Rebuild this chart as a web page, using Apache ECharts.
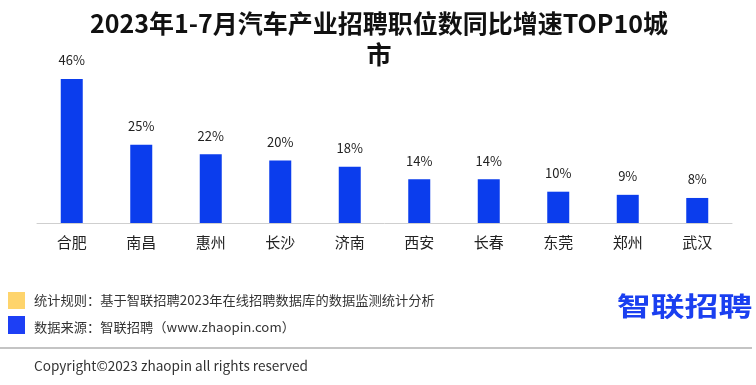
<!DOCTYPE html>
<html><head><meta charset="utf-8">
<script src="https://cdn.jsdelivr.net/npm/echarts@6/dist/echarts.min.js"></script>
<style>html,body{margin:0;padding:0;background:#fff}#c{width:756px;height:385px}</style>
</head><body><div id="c"></div>
<script>
const categories = ['合肥','南昌','惠州','长沙','济南','西安','长春','东莞','郑州','武汉'];
const growthPct = [46, 25, 22, 20, 18, 14, 14, 10, 9, 8];
const titleLine1 = '2023年1-7月汽车产业招聘职位数同比增速TOP10城';
const titleLine2 = '市';
const noteRule = '统计规则：基于智联招聘2023年在线招聘数据库的数据监测统计分析';
const noteSource = '数据来源：智联招聘（www.zhaopin.com）';
const copyright = 'Copyright©2023 zhaopin all rights reserved';
const logoText = '智联招聘';

const FONT = '"Noto Sans CJK SC", "Noto Sans", sans-serif';
const chart = echarts.init(document.getElementById('c'), null, {renderer:'canvas'});
chart.setOption({
  backgroundColor: '#fff',
  animation: false,
  grid: {left: 37, right: 24, top: 66.5, bottom: 162, containLabel: false},
  xAxis: {
    type: 'category',
    data: categories,
    axisLine: {show: true, lineStyle: {color: '#cfcfcf', width: 1}},
    axisTick: {show: false},
    axisLabel: {fontFamily: FONT, fontSize: 15, color: '#222', margin: 12}
  },
  yAxis: {
    type: 'value', min: 0, max: 50,
    show: false,
    splitLine: {show: false}
  },
  series: [{
    type: 'bar',
    data: growthPct,
    barWidth: 22,
    itemStyle: {color: '#0b3ded'},
    label: {
      show: true, position: 'top', distance: 12,
      formatter: p => p.value + '%',
      fontFamily: FONT, fontSize: 13, color: '#222'
    }
  }],
  graphic: [
    {type: 'text', x: 379, y: 23, style: {text: titleLine1, font: 'bold 25px ' + FONT, fill: '#111', textAlign: 'center', textVerticalAlign: 'middle'}},
    {type: 'text', x: 379, y: 54, style: {text: titleLine2, font: 'bold 25px ' + FONT, fill: '#111', textAlign: 'center', textVerticalAlign: 'middle'}},
    {type: 'rect', shape: {x: 8, y: 292, width: 17, height: 17}, style: {fill: '#fed46c'}},
    {type: 'rect', shape: {x: 8, y: 316, width: 17, height: 18}, style: {fill: '#1d3ff5'}},
    {type: 'text', x: 34, y: 300, scaleX: 1.02, style: {text: noteRule, font: '13px ' + FONT, fill: '#333', textVerticalAlign: 'middle'}},
    {type: 'text', x: 34, y: 327, scaleX: 1.02, style: {text: noteSource, font: '13px ' + FONT, fill: '#333', textVerticalAlign: 'middle'}},
    {type: 'text', x: 617, y: 306, scaleX: 1.3, style: {text: logoText, font: 'bold 26px ' + FONT, fill: '#1a3ff0', textVerticalAlign: 'middle'}},
    {type: 'line', shape: {x1: 0, y1: 348, x2: 752, y2: 348}, style: {stroke: '#8a8a8a', lineWidth: 1.2}},
    {type: 'text', x: 34, y: 366, style: {text: copyright, font: '13.6px ' + FONT, fill: '#333', textVerticalAlign: 'middle'}}
  ]
});
</script></body></html>
